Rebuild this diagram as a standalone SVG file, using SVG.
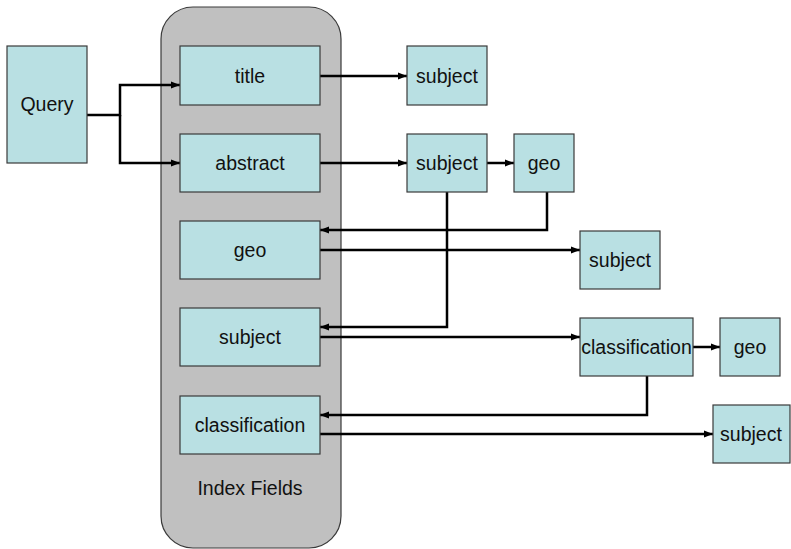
<svg xmlns="http://www.w3.org/2000/svg" width="791" height="549" viewBox="0 0 791 549">
<style>
.box{fill:#B9E0E3;stroke:#3a3a3a;stroke-width:1.2}
.lbl{font-family:"Liberation Sans",Arial,sans-serif;font-size:19.5px;fill:#111;text-anchor:middle}
.con{fill:none;stroke:#000;stroke-width:2.5;marker-end:url(#arr)}
</style>
<defs>
<marker id="arr" markerUnits="userSpaceOnUse" markerWidth="10" markerHeight="8" refX="9" refY="4" orient="auto">
<path d="M0,0.5 L9,4 L0,7.5 z" fill="#000"/>
</marker>
</defs>
<rect width="791" height="549" fill="#fff"/>
<g id="index-fields">
<rect x="161" y="7" width="180" height="541" rx="32" fill="#C0C0C0" stroke="#3a3a3a" stroke-width="1.2"/>
<text class="lbl" x="250" y="495">Index Fields</text>
</g>
<g id="connectors">
<path class="con" d="M87,115 H120 V85 H180"/>
<path class="con" d="M120,115 V163 H180"/>
<path class="con" d="M320,76 H407"/>
<path class="con" d="M320,163 H407"/>
<path class="con" d="M487,163 H514"/>
<path class="con" d="M547,192 V230 H320"/>
<path class="con" d="M320,250 H580"/>
<path class="con" d="M447,192 V327 H320"/>
<path class="con" d="M320,337 H580"/>
<path class="con" d="M693,347 H720"/>
<path class="con" d="M647,376 V415 H320"/>
<path class="con" d="M320,434 H713"/>
</g>
<g id="query"><rect class="box" x="7" y="46" width="80" height="117"/><text class="lbl" x="47" y="111">Query</text></g>
<g id="f-title"><rect class="box" x="180" y="46" width="140" height="59"/><text class="lbl" x="250" y="83">title</text></g>
<g id="f-abstract"><rect class="box" x="180" y="134" width="140" height="58"/><text class="lbl" x="250" y="170">abstract</text></g>
<g id="f-geo"><rect class="box" x="180" y="221" width="140" height="58"/><text class="lbl" x="250" y="257">geo</text></g>
<g id="f-subject"><rect class="box" x="180" y="308" width="140" height="58"/><text class="lbl" x="250" y="344">subject</text></g>
<g id="f-classification"><rect class="box" x="180" y="396" width="140" height="58"/><text class="lbl" x="250" y="432">classification</text></g>
<g id="subject1"><rect class="box" x="407" y="46" width="80" height="59"/><text class="lbl" x="447" y="83">subject</text></g>
<g id="subject2"><rect class="box" x="407" y="134" width="80" height="58"/><text class="lbl" x="447" y="170">subject</text></g>
<g id="geo1"><rect class="box" x="514" y="134" width="60" height="58"/><text class="lbl" x="544" y="170">geo</text></g>
<g id="subject3"><rect class="box" x="580" y="231" width="80" height="58"/><text class="lbl" x="620" y="267">subject</text></g>
<g id="classification1"><rect class="box" x="580" y="318" width="113" height="58"/><text class="lbl" x="636.5" y="354">classification</text></g>
<g id="geo2"><rect class="box" x="720" y="318" width="60" height="58"/><text class="lbl" x="750" y="354">geo</text></g>
<g id="subject4"><rect class="box" x="713" y="405" width="77" height="58"/><text class="lbl" x="751" y="441">subject</text></g>
</svg>
